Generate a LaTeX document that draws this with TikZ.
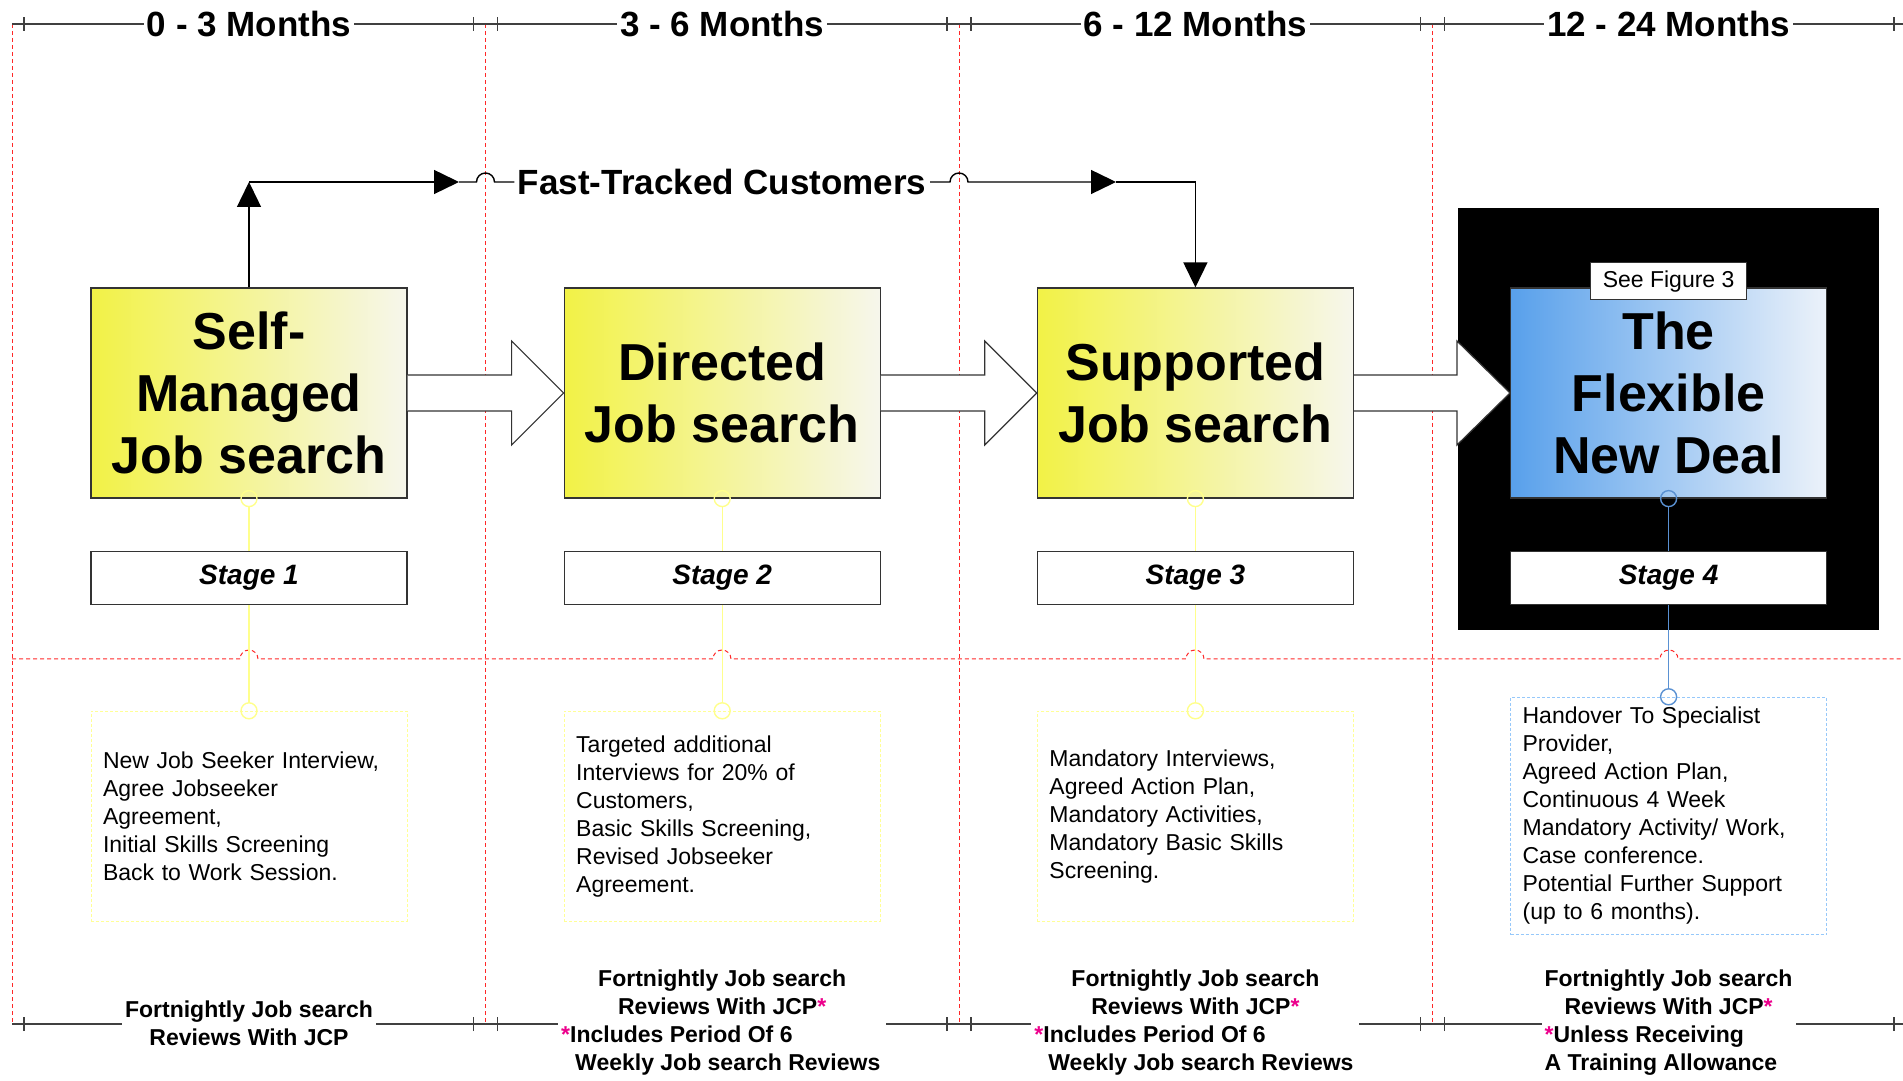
\documentclass[tikz,border=0pt]{standalone}
\usepackage{fontspec}
\setmainfont{Liberation Sans}
\usepackage{tikz}
\usetikzlibrary{arrows.meta,positioning}

\definecolor{jsyellow}{RGB}{242,242,70}
\definecolor{jsyellowpale}{RGB}{246,246,236}
\definecolor{fndblue}{RGB}{88,160,235}
\definecolor{fndbluepale}{RGB}{236,242,250}
\definecolor{linkyellow}{RGB}{255,255,140}
\definecolor{linkblue}{RGB}{90,145,210}
\definecolor{taskyellow}{RGB}{255,255,150}
\definecolor{taskblue}{RGB}{150,200,250}
\definecolor{gridred}{RGB}{255,40,40}

\begin{document}
\begin{tikzpicture}[x=1pt,y=1pt,line width=1.4pt,node distance=156pt,>={Triangle[length=25pt,width=24pt]}]
      \tikzstyle{gridline}=[draw=gridred,line width=1pt,dash pattern=on 4pt off 3pt]
      \tikzstyle{rule}=[draw=black!75,line width=1.5pt]
      \tikzstyle{mainbox}=[draw=black!80,line width=1.2pt,minimum width=316pt,minimum height=210pt,align=center,font=\fontsize{52}{62}\selectfont\bfseries]
      \tikzstyle{yellowbox}=[mainbox,left color=jsyellow,right color=jsyellowpale]
      \tikzstyle{bluebox}=[mainbox,left color=fndblue,right color=fndbluepale]
      \tikzstyle{stagebox}=[draw=black!80,fill=white,line width=1.2pt,minimum width=316pt,minimum height=53pt,font=\fontsize{28}{34}\selectfont\bfseries\itshape]
      \tikzstyle{taskbox}=[dash pattern=on 3pt off 2pt,line width=1pt,text width=292pt,minimum height=210pt,inner xsep=12pt,inner ysep=10pt,align=left,font=\fontsize{23}{28}\selectfont]
      \tikzstyle{figref}=[draw=black!80,fill=white,line width=1pt,inner xsep=12pt,inner ysep=8pt,font=\fontsize{23}{28}\selectfont]
      \tikzstyle{bigarrow}=[draw=black!80,fill=white,line width=1.2pt,line join=miter]
      \tikzstyle{period}=[fill=white,inner sep=3pt,font=\fontsize{35}{42}\selectfont\bfseries]
      \tikzstyle{review}=[fill=white,inner sep=3pt,align=center,font=\fontsize{23}{28}\selectfont\bfseries]
      \tikzstyle{link}=[draw=linkyellow,line width=1.4pt]
      \tikzstyle{bluelink}=[draw=linkblue,line width=1.4pt]

      \useasboundingbox (0,0) rectangle (1903,1080);

      % time grid
      \foreach \x in {12,485.5,959,1432.5}
        \draw[gridline] (\x,1056) -- (\x,56);
      \draw[gridline] (12,421) foreach \x in {249,722,1195,1669} {-- (\x-9,421) arc[start angle=180,end angle=0,radius=9]} -- (1903,421);
      \draw[rule] (12,1056) -- (1903,1056);
      \draw[rule] (12,56) -- (1903,56);
      \foreach \x in {24,473.5,497.5,947,971,1420.5,1444.5,1894} {
        \draw[rule] (\x,1049) -- (\x,1063);
        \draw[rule] (\x,49) -- (\x,63);
      }

      \fill[black] (1458,450) rectangle (1879,872);

      \node[yellowbox] (S1) at (249,687) {Self-\\Managed\\Job search};
      \node[yellowbox,right=of S1] (S2) {Directed\\Job search};
      \node[yellowbox,right=of S2] (S3) {Supported\\Job search};
      \node[bluebox,right=of S3] (S4) {The\\Flexible\\New Deal};
      \node[figref,anchor=south] (fig) at ([yshift=-13pt]S4.north) {See Figure 3};

      \node[stagebox,below=52pt of S1] (L1) {Stage 1};
      \node[stagebox,below=52pt of S2] (L2) {Stage 2};
      \node[stagebox,below=52pt of S3] (L3) {Stage 3};
      \node[stagebox,below=52pt of S4] (L4) {Stage 4};

      \node[taskbox,draw=taskyellow,below=106pt of L1] (D1) {New Job Seeker Interview,\\Agree Jobseeker\\Agreement,\\Initial Skills Screening\\Back to Work Session.};
      \node[taskbox,draw=taskyellow,below=106pt of L2] (D2) {Targeted additional\\Interviews for 20\% of\\Customers,\\Basic Skills Screening,\\Revised Jobseeker\\Agreement.};
      \node[taskbox,draw=taskyellow,below=106pt of L3] (D3) {Mandatory Interviews,\\Agreed Action Plan,\\Mandatory Activities,\\Mandatory Basic Skills\\Screening.};
      \node[taskbox,draw=taskblue,below=92pt of L4] (D4) {Handover To Specialist\\Provider,\\Agreed Action Plan,\\Continuous 4 Week\\Mandatory Activity/ Work,\\Case conference.\\Potential Further Support\\(up to 6 months).};

      % stage arrows
      \draw[bigarrow] ([yshift=18pt]S1.east) -- ([xshift=-52pt,yshift=18pt]S2.west) -- ([xshift=-52pt,yshift=52pt]S2.west) -- (S2.west) -- ([xshift=-52pt,yshift=-52pt]S2.west) -- ([xshift=-52pt,yshift=-18pt]S2.west) -- ([yshift=-18pt]S1.east);
      \draw[bigarrow] ([yshift=18pt]S2.east) -- ([xshift=-52pt,yshift=18pt]S3.west) -- ([xshift=-52pt,yshift=52pt]S3.west) -- (S3.west) -- ([xshift=-52pt,yshift=-52pt]S3.west) -- ([xshift=-52pt,yshift=-18pt]S3.west) -- ([yshift=-18pt]S2.east);
      \draw[bigarrow] ([yshift=18pt]S3.east) -- ([xshift=-53pt,yshift=18pt]S4.west) -- ([xshift=-53pt,yshift=52pt]S4.west) -- (S4.west) -- ([xshift=-53pt,yshift=-52pt]S4.west) -- ([xshift=-53pt,yshift=-18pt]S4.west) -- ([yshift=-18pt]S3.east);

      % stage links
      \draw[link] (S1.south) circle (8pt);
      \draw[link] ([yshift=-8pt]S1.south) -- (L1.north);
      \draw[link] (L1.south) -- ([yshift=8pt]D1.north);
      \draw[link] (D1.north) circle (8pt);
      \draw[link] (S2.south) circle (8pt);
      \draw[link] ([yshift=-8pt]S2.south) -- (L2.north);
      \draw[link] (L2.south) -- ([yshift=8pt]D2.north);
      \draw[link] (D2.north) circle (8pt);
      \draw[link] (S3.south) circle (8pt);
      \draw[link] ([yshift=-8pt]S3.south) -- (L3.north);
      \draw[link] (L3.south) -- ([yshift=8pt]D3.north);
      \draw[link] (D3.north) circle (8pt);
      \draw[bluelink] (S4.south) circle (8pt);
      \draw[bluelink] ([yshift=-8pt]S4.south) -- (L4.north);
      \draw[bluelink] (L4.south) -- ([yshift=8pt]D4.north);
      \draw[bluelink] (D4.north) circle (8pt);

      % periods
      \coordinate (head) at (0,1056);
      \node[period] (P1) at (S1 |- head) {0 - 3 Months};
      \node[period] (P2) at (S2 |- head) {3 - 6 Months};
      \node[period] (P3) at (S3 |- head) {6 - 12 Months};
      \node[period] (P4) at (S4 |- head) {12 - 24 Months};

      % fast track
      \coordinate (ft) at (0,898);
      \node[period] (FT) at (S2 |- ft) {Fast-Tracked Customers};
      \coordinate (ftA) at (S1 |- ft);
      \coordinate (ftB) at (459,898);
      \coordinate (ftC) at (1116,898);
      \coordinate (ftD) at (S3 |- ft);
      \draw[->] (S1.north) -- (ftA);
      \draw[->] (ftA) -- (ftB);
      \draw (ftB) -- (476.5,898) arc[start angle=180,end angle=0,radius=9] -- (FT.west);
      \draw[->] (FT.east) -- (950,898) arc[start angle=180,end angle=0,radius=9] -- (ftC);
      \draw[->] (ftC) -- (ftD) -- (S3.north);

      % reviews
      \coordinate (foot) at (0,57);
      \node[review] (R1) at (S1 |- foot) {Fortnightly Job search\\Reviews With JCP};
      \node[review] (R2) at (S2 |- foot) {Fortnightly Job search\\Reviews With JCP\textcolor{magenta}{*}\\\makebox[322pt][l]{\textcolor{magenta}{*}Includes Period Of 6}\\\makebox[322pt][l]{\hspace*{14pt}Weekly Job search Reviews}};
      \node[review] (R3) at (S3 |- foot) {Fortnightly Job search\\Reviews With JCP\textcolor{magenta}{*}\\\makebox[322pt][l]{\textcolor{magenta}{*}Includes Period Of 6}\\\makebox[322pt][l]{\hspace*{14pt}Weekly Job search Reviews}};
      \node[review,align=left] (R4) at (S4 |- foot) {Fortnightly Job search\\\makebox[248pt][c]{Reviews With JCP\textcolor{magenta}{*}}\\\textcolor{magenta}{*}Unless Receiving\\A Training Allowance};
\end{tikzpicture}
\end{document}
